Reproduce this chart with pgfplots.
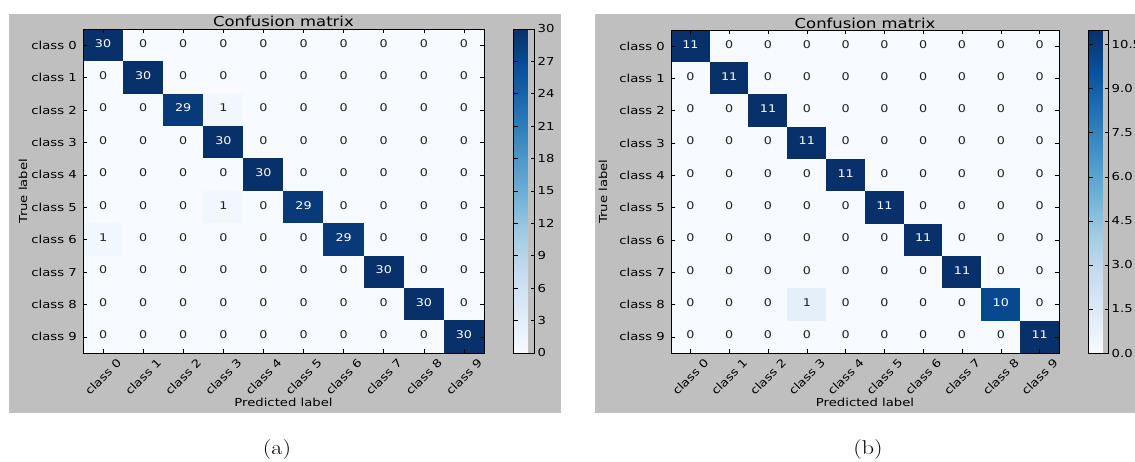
\documentclass[border=0pt]{standalone}
\usepackage{fontspec}
\usepackage{graphicx}
\usepackage{pgfplots}
\usepackage{pgfplotstable}
\pgfplotsset{compat=1.18}
\newfontfamily\dejavu[FakeStretch=1.2]{DejaVu Sans}
\newcommand\axfont{\dejavu\fontsize{11}{13}\selectfont}
\newcommand\numfont{\dejavu\fontsize{10.6}{12}\selectfont}
\definecolor{panelgrey}{RGB}{191,191,191}
\definecolor{celltext}{RGB}{30,30,30}

% confusion matrix of model (a): x = predicted class, y = true class, c = count
\pgfplotstableread[row sep=\\]{
x y c\\
0 0 30\\ 1 0 0\\ 2 0 0\\ 3 0 0\\ 4 0 0\\ 5 0 0\\ 6 0 0\\ 7 0 0\\ 8 0 0\\ 9 0 0\\
0 1 0\\ 1 1 30\\ 2 1 0\\ 3 1 0\\ 4 1 0\\ 5 1 0\\ 6 1 0\\ 7 1 0\\ 8 1 0\\ 9 1 0\\
0 2 0\\ 1 2 0\\ 2 2 29\\ 3 2 1\\ 4 2 0\\ 5 2 0\\ 6 2 0\\ 7 2 0\\ 8 2 0\\ 9 2 0\\
0 3 0\\ 1 3 0\\ 2 3 0\\ 3 3 30\\ 4 3 0\\ 5 3 0\\ 6 3 0\\ 7 3 0\\ 8 3 0\\ 9 3 0\\
0 4 0\\ 1 4 0\\ 2 4 0\\ 3 4 0\\ 4 4 30\\ 5 4 0\\ 6 4 0\\ 7 4 0\\ 8 4 0\\ 9 4 0\\
0 5 0\\ 1 5 0\\ 2 5 0\\ 3 5 1\\ 4 5 0\\ 5 5 29\\ 6 5 0\\ 7 5 0\\ 8 5 0\\ 9 5 0\\
0 6 1\\ 1 6 0\\ 2 6 0\\ 3 6 0\\ 4 6 0\\ 5 6 0\\ 6 6 29\\ 7 6 0\\ 8 6 0\\ 9 6 0\\
0 7 0\\ 1 7 0\\ 2 7 0\\ 3 7 0\\ 4 7 0\\ 5 7 0\\ 6 7 0\\ 7 7 30\\ 8 7 0\\ 9 7 0\\
0 8 0\\ 1 8 0\\ 2 8 0\\ 3 8 0\\ 4 8 0\\ 5 8 0\\ 6 8 0\\ 7 8 0\\ 8 8 30\\ 9 8 0\\
0 9 0\\ 1 9 0\\ 2 9 0\\ 3 9 0\\ 4 9 0\\ 5 9 0\\ 6 9 0\\ 7 9 0\\ 8 9 0\\ 9 9 30\\
}\cmA

% confusion matrix of model (b)
\pgfplotstableread[row sep=\\]{
x y c\\
0 0 11\\ 1 0 0\\ 2 0 0\\ 3 0 0\\ 4 0 0\\ 5 0 0\\ 6 0 0\\ 7 0 0\\ 8 0 0\\ 9 0 0\\
0 1 0\\ 1 1 11\\ 2 1 0\\ 3 1 0\\ 4 1 0\\ 5 1 0\\ 6 1 0\\ 7 1 0\\ 8 1 0\\ 9 1 0\\
0 2 0\\ 1 2 0\\ 2 2 11\\ 3 2 0\\ 4 2 0\\ 5 2 0\\ 6 2 0\\ 7 2 0\\ 8 2 0\\ 9 2 0\\
0 3 0\\ 1 3 0\\ 2 3 0\\ 3 3 11\\ 4 3 0\\ 5 3 0\\ 6 3 0\\ 7 3 0\\ 8 3 0\\ 9 3 0\\
0 4 0\\ 1 4 0\\ 2 4 0\\ 3 4 0\\ 4 4 11\\ 5 4 0\\ 6 4 0\\ 7 4 0\\ 8 4 0\\ 9 4 0\\
0 5 0\\ 1 5 0\\ 2 5 0\\ 3 5 0\\ 4 5 0\\ 5 5 11\\ 6 5 0\\ 7 5 0\\ 8 5 0\\ 9 5 0\\
0 6 0\\ 1 6 0\\ 2 6 0\\ 3 6 0\\ 4 6 0\\ 5 6 0\\ 6 6 11\\ 7 6 0\\ 8 6 0\\ 9 6 0\\
0 7 0\\ 1 7 0\\ 2 7 0\\ 3 7 0\\ 4 7 0\\ 5 7 0\\ 6 7 0\\ 7 7 11\\ 8 7 0\\ 9 7 0\\
0 8 0\\ 1 8 0\\ 2 8 0\\ 3 8 1\\ 4 8 0\\ 5 8 0\\ 6 8 0\\ 7 8 0\\ 8 8 10\\ 9 8 0\\
0 9 0\\ 1 9 0\\ 2 9 0\\ 3 9 0\\ 4 9 0\\ 5 9 0\\ 6 9 0\\ 7 9 0\\ 8 9 0\\ 9 9 11\\
}\cmB

% white text on cells whose count exceeds the given threshold
\newcommand\celllabel[1]{%
  \numfont
  \pgfmathparse{\pgfplotspointmeta>#1 ? 1 : 0}%
  \ifdim\pgfmathresult pt>0.5pt\color{white}\fi
  \pgfplotspointmeta}

\pgfplotsset{
  colormap={blues}{rgb255(0)=(247,251,255) rgb255(1)=(222,235,247)
    rgb255(2)=(198,219,239) rgb255(3)=(158,202,225) rgb255(4)=(107,174,214)
    rgb255(5)=(66,146,198) rgb255(6)=(33,113,181) rgb255(7)=(8,81,156)
    rgb255(8)=(8,48,107)},
  /pgf/number format/assume math mode=true,
  cmaxis/.style={
    scale only axis, axis on top,
    colormap name=blues,
    xmin=-0.5, xmax=9.5, ymin=-0.5, ymax=9.5,
    y dir=reverse, enlargelimits=false,
    xtick={0,...,9}, ytick={0,...,9},
    % class names: "class 0" ... "class 9"
    xticklabel={\axfont class \pgfmathprintnumber{\tick}},
    yticklabel={\axfont class \pgfmathprintnumber{\tick}},
    tick align=inside, major tick length=4pt,
    tick style={black, line width=0.6pt},
    axis line style={black, line width=0.8pt},
    font=\axfont,
    xticklabel style={font=\axfont, rotate=45, anchor=center},
    xticklabel shift=24pt,
    yticklabel style={font=\axfont, anchor=east, inner sep=0pt, xshift=-6pt},
    title={Confusion matrix},
    title style={font=\dejavu\fontsize{13.7}{16}\selectfont,
      at={(axis description cs:0.5,1)}, anchor=base, yshift=-4pt, inner sep=0pt},
    xlabel={Predicted label},
    ylabel={True label},
    label style={font=\axfont},
    colorbar,
  },
  cbar/.style={
    scale only axis,
    at={(parent axis.north east)}, anchor=north west, xshift=21pt,
    tick align=inside, major tick length=4pt,
    tick style={black, line width=0.6pt},
    axis line style={black, line width=0.8pt},
    yticklabel style={font=\axfont, anchor=west, inner sep=0pt, xshift=3pt},
  },
  cmtext/.style={
    draw=none, mark=none,
    point meta=explicit symbolic,
    nodes near coords={\celllabel{#1}},
    every node near coord/.append style={anchor=center, inner sep=0pt,
      text=celltext, font=\numfont, yshift=2pt},
  },
}

\begin{document}
\begin{tikzpicture}
\path[use as bounding box] (0,0) rectangle (1135pt,461pt);
\fill[panelgrey] (9pt,48pt) rectangle (561pt,447pt);
\fill[panelgrey] (595pt,48pt) rectangle (1135pt,447pt);

\begin{axis}[cmaxis,
  at={(83pt,108pt)}, anchor=south west,
  width=401pt, height=324pt,
  point meta min=0, point meta max=30,
  xlabel style={at={(axis description cs:0.5,-0.1512)}, anchor=center},
  ylabel style={at={(axis description cs:-0.1496,0.5)}, anchor=center},
  colorbar style={cbar, width=21pt, height=324pt, ytick={0,3,...,30},
    yticklabel={\axfont\pgfmathprintnumber{\tick}}},
]
\addplot[matrix plot*, mesh/cols=10, point meta=explicit]
  table[x=x, y=y, meta=c]{\cmA};
\addplot[cmtext=15] table[x=x, y=y, meta=c]{\cmA};
\end{axis}

\begin{axis}[cmaxis,
  at={(671pt,108pt)}, anchor=south west,
  width=388pt, height=323pt,
  point meta min=0, point meta max=11,
  xlabel style={at={(axis description cs:0.5,-0.1517)}, anchor=center},
  ylabel style={at={(axis description cs:-0.1753,0.5)}, anchor=center},
  colorbar style={cbar, width=20pt, height=323pt,
    ytick={0,1.5,3,4.5,6,7.5,9,10.5},
    yticklabel={\axfont\pgfmathprintnumber[fixed, fixed zerofill, precision=1]{\tick}}},
]
\addplot[matrix plot*, mesh/cols=10, point meta=explicit]
  table[x=x, y=y, meta=c]{\cmB};
\addplot[cmtext=5] table[x=x, y=y, meta=c]{\cmB};
\end{axis}

\node[font=\fontsize{20}{24}\selectfont] at (277pt,11pt) {\scalebox{1.2}[1]{(a)}};
\node[font=\fontsize{20}{24}\selectfont] at (868pt,11pt) {\scalebox{1.2}[1]{(b)}};
\end{tikzpicture}
\end{document}
